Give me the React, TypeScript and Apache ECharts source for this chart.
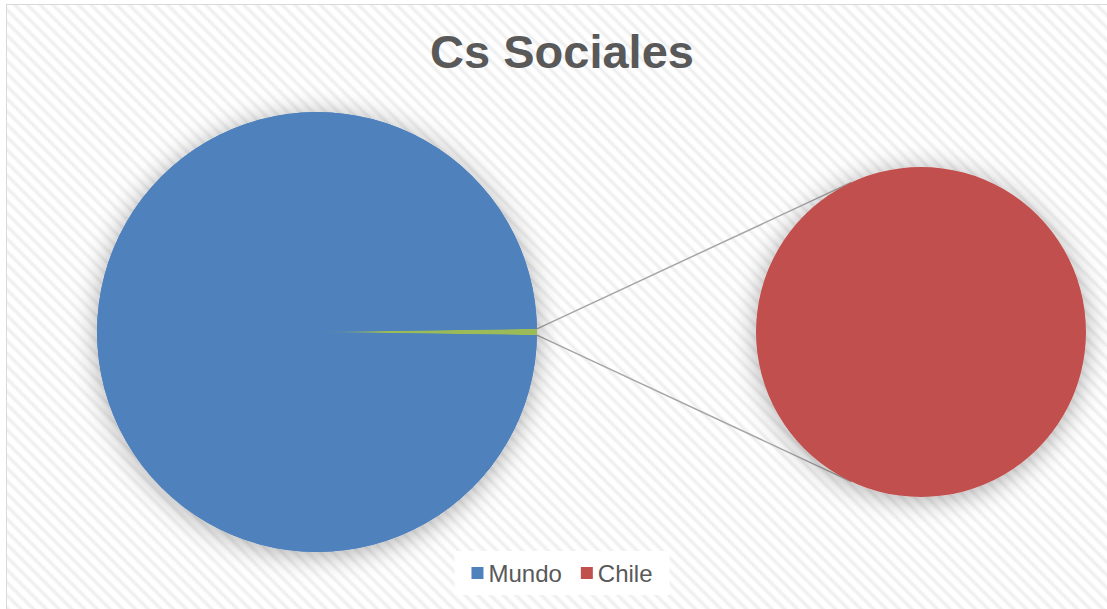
import React, { useEffect, useRef } from "react";
import * as echarts from "echarts";

const titleText = "Cs Sociales";
const categories = ["Mundo", "Chile"];
const values = [99.54, 0.46];
const otherLabel = "Otros";
const colors = ["#4f81bd", "#c0504d", "#9bbb59"];

const W = 1110;
const H = 610;
const mainC = [310, 327];
const mainR = 220;
const subC = [914, 327];
const subR = 165;

function tangentPoint(p: number[], c: number[], r: number, upper: boolean) {
  const vx = p[0] - c[0];
  const vy = p[1] - c[1];
  const d = Math.sqrt(vx * vx + vy * vy);
  const tp = Math.atan2(vy, vx);
  const a = Math.acos(r / d);
  const t1 = [c[0] + r * Math.cos(tp + a), c[1] + r * Math.sin(tp + a)];
  const t2 = [c[0] + r * Math.cos(tp - a), c[1] + r * Math.sin(tp - a)];
  if (upper) return t1[1] < t2[1] ? t1 : t2;
  return t1[1] > t2[1] ? t1 : t2;
}

export default function App() {
  const ref = useRef<HTMLDivElement>(null);
  useEffect(() => {
    if (!ref.current) return;
    const chart = echarts.init(ref.current, null, { renderer: "svg" });
    const total = values[0] + values[1];
    const halfDeg = ((values[1] / total) * 360) / 2;
    const halfRad = (halfDeg * Math.PI) / 180;
    const p1 = [mainC[0] + mainR * Math.cos(halfRad), mainC[1] - mainR * Math.sin(halfRad)];
    const p2 = [mainC[0] + mainR * Math.cos(halfRad), mainC[1] + mainR * Math.sin(halfRad)];
    const t1 = tangentPoint(p1, subC, subR, true);
    const t2 = tangentPoint(p2, subC, subR, false);
    const font = 'Arial, "Liberation Sans", sans-serif';
    const shadow = {
      shadowBlur: 26,
      shadowColor: "rgba(0,0,0,0.33)",
      shadowOffsetX: 0,
      shadowOffsetY: 3,
    };
    chart.setOption({
      animation: false,
      backgroundColor: "transparent",
      title: {
        text: titleText,
        left: "center",
        top: 18,
        textStyle: { fontSize: 47, fontWeight: "bold", color: "#595959", fontFamily: font },
      },
      legend: {
        data: [
          { name: categories[0], itemStyle: { color: colors[0] } },
          { name: categories[1], itemStyle: { color: colors[1] } },
        ],
        left: "center",
        top: 546,
        icon: "rect",
        itemWidth: 12,
        itemHeight: 12,
        itemGap: 19,
        padding: [10, 17],
        backgroundColor: "#ffffff",
        textStyle: { fontSize: 24, color: "#595959", fontFamily: font },
        selectedMode: false,
      },
      graphic: [
        {
          type: "line",
          z: 1,
          shape: { x1: p1[0], y1: p1[1], x2: t1[0], y2: t1[1] },
          style: { stroke: "#a6a6a6", lineWidth: 1.5 },
        },
        {
          type: "line",
          z: 1,
          shape: { x1: p2[0], y1: p2[1], x2: t2[0], y2: t2[1] },
          style: { stroke: "#a6a6a6", lineWidth: 1.5 },
        },
      ],
      series: [
        {
          type: "pie",
          name: "shadowMain",
          silent: true,
          center: mainC,
          radius: mainR,
          label: { show: false },
          labelLine: { show: false },
          itemStyle: { color: colors[0], ...shadow },
          data: [{ name: "", value: total }],
        },
        {
          type: "pie",
          name: "main",
          silent: true,
          center: mainC,
          radius: mainR,
          startAngle: halfDeg,
          clockwise: true,
          label: { show: false },
          labelLine: { show: false },
          data: [
            { name: otherLabel, value: values[1], itemStyle: { color: colors[2] } },
            { name: categories[0], value: values[0], itemStyle: { color: colors[0] } },
          ],
        },
        {
          type: "pie",
          name: "sub",
          silent: true,
          center: subC,
          radius: subR,
          label: { show: false },
          labelLine: { show: false },
          itemStyle: { color: colors[1], ...shadow },
          data: [{ name: categories[1], value: values[1] }],
        },
      ],
    });
    return () => chart.dispose();
  }, []);

  return (
    <div
      style={{
        position: "fixed",
        left: 0,
        top: 0,
        width: "100vw",
        height: "100vh",
        overflow: "hidden",
        background: "#ffffff",
      }}
    >
      <div
        style={{
          position: "absolute",
          left: 6,
          top: 4,
          width: W,
          height: H,
          border: "1.5px solid #d9d9d9",
          background:
            "repeating-linear-gradient(45deg, #ffffff 0px, #ffffff 2px, #ededed 5px, #ffffff 8px, #ffffff 9px)",
        }}
      >
        <div ref={ref} style={{ width: W, height: H }} />
      </div>
    </div>
  );
}
